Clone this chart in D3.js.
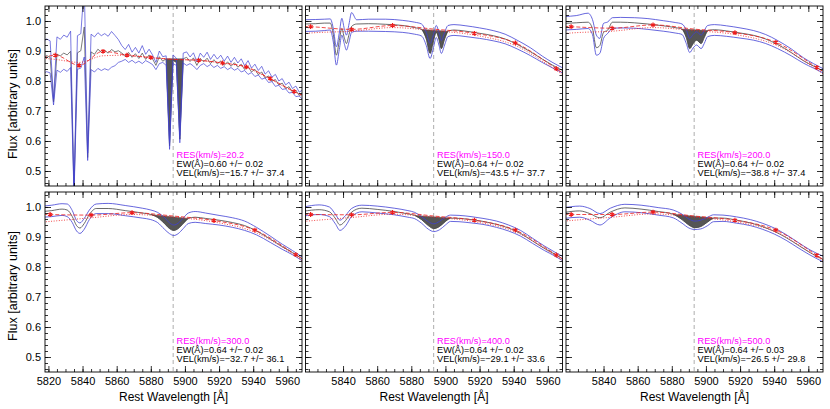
<!DOCTYPE html>
<html><head><meta charset="utf-8">
<script src="https://cdn.jsdelivr.net/npm/d3@7"></script>
<style>
body{margin:0;background:#fff}
svg{display:block}
text{font-family:"Liberation Sans",Arial,Helvetica,sans-serif;fill:#000}
</style>
</head><body><svg id="c" width="830" height="409"></svg>
<script>
// ---------------- DATA ----------------
// Panel 1 (RES 20.2) sampled every 2 Å
const wl1 = d3.range(5817, 5970, 2);
const flux1 = [0.878,0.885,0.879,0.73,0.889,0.884,0.893,0.887,0.899,0.43,
 0.894,0.901,0.98,0.545,0.897,0.889,0.906,0.896,0.902,0.893,
 0.905,0.897,0.901,0.893,0.884,0.895,0.879,0.891,0.875,0.893,
 0.872,0.887,0.874,0.852,0.881,0.866,0.874,0.584,0.869,0.862,
 0.606,0.874,0.879,0.865,0.877,0.852,0.875,0.864,0.876,0.858,
 0.871,0.857,0.867,0.852,0.864,0.849,0.861,0.846,0.856,0.838,
 0.849,0.83,0.839,0.821,0.83,0.81,0.817,0.799,0.805,0.787,
 0.793,0.775,0.781,0.763,0.769,0.752,0.757];
const hi1 = [0.931,0.940,0.934,0.74,0.947,0.939,0.953,0.946,0.966,0.44,
 0.951,0.958,1.12,0.56,0.956,0.947,0.961,0.951,0.958,0.949,
 0.965,0.952,0.938,0.918,0.905,0.922,0.896,0.912,0.893,0.918,
 0.889,0.906,0.887,0.862,0.9,0.881,0.884,0.596,0.887,0.876,
 0.618,0.893,0.897,0.88,0.894,0.864,0.893,0.879,0.896,0.872,
 0.889,0.873,0.886,0.866,0.883,0.862,0.879,0.86,0.874,0.851,
 0.868,0.843,0.856,0.835,0.849,0.823,0.834,0.813,0.822,0.8,
 0.808,0.787,0.796,0.775,0.783,0.763,0.77];
const lo1 = [0.826,0.831,0.827,0.72,0.836,0.829,0.839,0.832,0.845,0.42,
 0.839,0.843,0.88,0.535,0.838,0.83,0.842,0.835,0.841,0.836,
 0.846,0.851,0.862,0.866,0.872,0.862,0.869,0.86,0.866,0.858,
 0.868,0.862,0.855,0.838,0.858,0.862,0.852,0.572,0.858,0.852,
 0.594,0.86,0.852,0.858,0.85,0.838,0.852,0.858,0.848,0.855,
 0.845,0.852,0.842,0.848,0.838,0.845,0.836,0.842,0.83,0.835,
 0.822,0.828,0.815,0.82,0.806,0.81,0.795,0.798,0.782,0.786,
 0.772,0.774,0.76,0.762,0.748,0.75,0.738];
const cont1Wl = [5817,5824,5838,5852,5866,5880,5894,5908,5922,5936,5950,5964,5969];
const cont1 = [0.877,0.886,0.852,0.899,0.886,0.878,0.872,0.869,0.86,0.847,0.808,0.765,0.752];
const dot1 = [0.876,0.872,0.862,0.884,0.886,0.878,0.872,0.869,0.86,0.845,0.806,0.764,0.751];

// Panels 2-6 share continuum node wavelengths
const contWl = [5817,5821,5845,5869,5893,5917,5941,5965,5969];

// Panel 2 (RES 150)
const wl2 = [5817,5824,5829,5832.5,5834.3,5836.1,5837.8,5839.3,5840.7,5842,5843.5,5845,5848,5855,5865,5875,5882,5886,5888.8,5891,5893,5894.6,5896.2,5897.6,5899.5,5901.5,5905,5912,5920,5928,5935,5942,5950,5957,5963,5969];
const flux2 = [0.990,0.991,0.993,0.993,0.955,0.886,0.935,0.975,0.945,0.925,0.955,0.982,0.99,0.991,0.989,0.985,0.978,0.972,0.94,0.892,0.935,0.962,0.94,0.908,0.94,0.966,0.97,0.966,0.959,0.951,0.94,0.922,0.897,0.872,0.852,0.834];
const hi2 = [1.004,1.005,1.006,1.007,0.975,0.914,0.96,1.009,0.975,0.953,0.99,1.028,1.004,1.006,1.006,1.002,0.996,0.99,0.962,0.925,0.955,0.985,0.962,0.935,0.962,0.985,0.988,0.984,0.977,0.968,0.956,0.936,0.91,0.882,0.861,0.843];
const lo2 = [0.965,0.966,0.968,0.97,0.93,0.853,0.905,0.953,0.925,0.903,0.93,0.962,0.966,0.966,0.965,0.962,0.956,0.95,0.918,0.875,0.912,0.945,0.92,0.892,0.92,0.948,0.952,0.948,0.942,0.934,0.924,0.907,0.884,0.861,0.843,0.826];
const cont2 = [0.982,0.981,0.972,0.985,0.973,0.959,0.927,0.841,0.826];
const dot2 = [0.958,0.96,0.966,0.978,0.968,0.953,0.918,0.835,0.82];

// Panel 3 (RES 200)
const wl3 = [5817,5824,5830.9,5833.5,5835.8,5837.8,5840,5842.5,5845.2,5850,5858,5866,5875,5882,5886,5888.5,5890.5,5892.5,5894.5,5897.2,5899,5901,5905,5912,5920,5928,5935,5942,5950,5957,5963,5969];
const flux3 = [0.992,0.994,0.996,0.975,0.911,0.918,0.962,0.97,0.996,0.996,0.994,0.99,0.984,0.978,0.973,0.945,0.908,0.925,0.936,0.925,0.945,0.968,0.971,0.967,0.96,0.952,0.94,0.922,0.895,0.868,0.85,0.832];
const hi3 = [1.015,1.018,1.026,1.005,0.953,0.942,0.992,0.997,1.011,1.012,1.011,1.008,1.001,0.995,0.99,0.97,0.942,0.955,0.964,0.953,0.968,0.985,0.988,0.984,0.977,0.968,0.955,0.935,0.907,0.878,0.858,0.84];
const lo3 = [0.97,0.972,0.975,0.955,0.886,0.892,0.942,0.959,0.975,0.977,0.976,0.972,0.966,0.96,0.955,0.925,0.895,0.91,0.92,0.908,0.925,0.948,0.952,0.949,0.943,0.936,0.925,0.908,0.884,0.86,0.843,0.826];
const cont3 = [0.982,0.981,0.976,0.987,0.973,0.961,0.929,0.845,0.83];
const dot3 = [0.958,0.96,0.966,0.978,0.968,0.955,0.92,0.838,0.822];

// Panel 4 (RES 300)
const wl4 = [5817,5822,5828,5831,5834,5836.5,5838.5,5841,5844,5848,5855,5865,5875,5880,5884,5888,5891,5893.5,5896,5899,5902,5906,5912,5920,5928,5935,5942,5950,5957,5963,5969];
const flux4 = [0.985,0.988,0.993,0.99,0.968,0.938,0.93,0.945,0.975,0.995,0.995,0.988,0.98,0.975,0.965,0.945,0.928,0.922,0.928,0.945,0.962,0.966,0.962,0.956,0.948,0.938,0.92,0.893,0.868,0.848,0.826];
const hi4 = [1.003,1.006,1.011,1.01,0.988,0.955,0.947,0.962,0.99,1.01,1.012,1.005,0.996,0.99,0.982,0.965,0.947,0.94,0.946,0.963,0.98,0.985,0.98,0.972,0.964,0.953,0.932,0.903,0.876,0.855,0.832];
const lo4 = [0.966,0.968,0.972,0.968,0.948,0.92,0.912,0.926,0.958,0.978,0.978,0.971,0.963,0.958,0.948,0.926,0.911,0.905,0.911,0.928,0.945,0.949,0.945,0.94,0.932,0.922,0.907,0.882,0.859,0.841,0.82];
const cont4 = [0.976,0.975,0.973,0.981,0.970,0.955,0.923,0.841,0.826];
const dot4 = [0.95,0.952,0.964,0.975,0.966,0.95,0.916,0.836,0.82];

// Panel 5 (RES 400)
const wl5 = [5817,5826,5832,5835.5,5838.2,5841.5,5845,5851,5860,5870,5878,5882,5886,5890,5893.2,5896.5,5900,5903,5908,5915,5922,5930,5937,5944,5951,5958,5964,5969];
const flux5 = [0.986,0.991,0.984,0.962,0.94,0.955,0.983,0.996,0.992,0.985,0.977,0.972,0.958,0.938,0.928,0.935,0.952,0.963,0.962,0.958,0.952,0.942,0.93,0.912,0.887,0.862,0.843,0.826];
const hi5 = [1.0,1.007,1.0,0.976,0.956,0.972,0.995,1.006,1.003,0.996,0.988,0.982,0.968,0.951,0.944,0.952,0.966,0.973,0.972,0.968,0.962,0.953,0.94,0.922,0.896,0.87,0.85,0.834];
const lo5 = [0.97,0.975,0.968,0.944,0.922,0.937,0.968,0.984,0.98,0.974,0.966,0.961,0.946,0.926,0.918,0.924,0.94,0.952,0.951,0.947,0.942,0.932,0.92,0.903,0.879,0.855,0.837,0.82];
const cont5 = [0.976,0.975,0.974,0.982,0.970,0.956,0.923,0.84,0.825];
const dot5 = [0.952,0.954,0.965,0.976,0.966,0.951,0.917,0.835,0.82];

// Panel 6 (RES 500)
const wl6 = [5817,5826,5832,5837.9,5844,5852.5,5862,5872,5880.8,5886,5890,5893.5,5897,5901,5904.5,5910,5918,5926,5933,5940,5947,5954,5961,5969];
const flux6 = [0.982,0.987,0.978,0.964,0.983,0.997,0.993,0.985,0.976,0.958,0.94,0.931,0.935,0.95,0.963,0.963,0.956,0.947,0.935,0.919,0.898,0.873,0.848,0.824];
const hi6 = [0.998,1.003,0.995,0.978,0.996,1.009,1.006,0.998,0.99,0.976,0.96,0.953,0.956,0.966,0.974,0.973,0.967,0.958,0.946,0.93,0.908,0.882,0.857,0.835];
const lo6 = [0.962,0.966,0.956,0.94,0.964,0.984,0.981,0.973,0.964,0.946,0.93,0.925,0.927,0.938,0.951,0.952,0.946,0.938,0.926,0.91,0.889,0.864,0.84,0.816];
const cont6 = [0.976,0.975,0.975,0.983,0.970,0.956,0.923,0.839,0.824];
const dot6 = [0.953,0.955,0.966,0.977,0.966,0.951,0.917,0.834,0.82];

// Absorption fill ranges (Å)
const fillRanges = [[5889,5899],[5886,5901.5],[5886,5901],[5880,5902],[5882,5903],[5880.8,5904.5]];
// Annotations
const resVals = ["20.2","150.0","200.0","300.0","400.0","500.0"];
const ewVals = [0.60,0.64,0.64,0.64,0.64,0.64];
const ewErrs = [0.02,0.02,0.02,0.02,0.02,0.03];
const velVals = [-15.7,-43.5,-38.8,-32.7,-29.1,-26.5];
const velErrs = [37.4,37.7,37.4,36.1,33.6,29.8];
const naD = 5893.1;
const xMajor = [5820,5840,5860,5880,5900,5920,5940,5960];
const yMajor = [0.5,0.6,0.7,0.8,0.9,1.0];

const panels = [
  {wl:wl1, f:flux1, hi:hi1, lo:lo1, cw:cont1Wl, c:cont1, d:dot1, curve:d3.curveLinear, sw:0.7},
  {wl:wl2, f:flux2, hi:hi2, lo:lo2, cw:contWl, c:cont2, d:dot2, curve:d3.curveMonotoneX, sw:0.8},
  {wl:wl3, f:flux3, hi:hi3, lo:lo3, cw:contWl, c:cont3, d:dot3, curve:d3.curveMonotoneX, sw:0.8},
  {wl:wl4, f:flux4, hi:hi4, lo:lo4, cw:contWl, c:cont4, d:dot4, curve:d3.curveMonotoneX, sw:0.8},
  {wl:wl5, f:flux5, hi:hi5, lo:lo5, cw:contWl, c:cont5, d:dot5, curve:d3.curveMonotoneX, sw:0.8},
  {wl:wl6, f:flux6, hi:hi6, lo:lo6, cw:contWl, c:cont6, d:dot6, curve:d3.curveMonotoneX, sw:0.8}
];

// ---------------- LAYOUT ----------------
const lefts = [45, 305.5, 566], pw = 257;
const tops = [6, 192], ph = 180;
const xDom = [5818, 5968.6], yDom = [0.45, 1.05];
const BLUE = "#4040d4", RED = "#ee1c1c", GREY = "#444";
const svg = d3.select("#c");
const minus = v => (v < 0 ? "\u2212" : "") + Math.abs(v).toFixed(1);

panels.forEach((p, k) => {
  const col = k % 3, row = Math.floor(k / 3);
  const x0 = lefts[col], y0 = tops[row];
  const x = d3.scaleLinear().domain(xDom).range([x0, x0 + pw]);
  const y = d3.scaleLinear().domain(yDom).range([y0 + ph, y0]);
  const g = svg.append("g");
  const cid = "clip" + k;
  svg.append("clipPath").attr("id", cid).append("rect")
    .attr("x", x0).attr("y", y0).attr("width", pw).attr("height", ph);
  const pg = g.append("g").attr("clip-path", `url(#${cid})`);

  // Na D marker line
  pg.append("line").attr("x1", x(naD)).attr("x2", x(naD)).attr("y1", y0).attr("y2", y0 + ph)
    .attr("stroke", "#999").attr("stroke-width", 0.8).attr("stroke-dasharray", "4,3");

  const pts = a => p.wl.map((w, i) => [w, a[i]]);
  const line = d3.line().x(d => x(d[0])).y(d => y(d[1])).curve(p.curve);

  // absorption fill
  const [fs, fe] = fillRanges[k];
  const fp = pts(p.f).filter(d => d[0] >= fs && d[0] <= fe);
  pg.append("path").attr("d", line(fp) + "Z").attr("fill", "#555").attr("stroke", "#555").attr("stroke-width", 0.5);

  // spectrum + envelopes
  pg.append("path").attr("d", line(pts(p.f))).attr("fill", "none").attr("stroke", GREY).attr("stroke-width", p.sw);
  pg.append("path").attr("d", line(pts(p.hi))).attr("fill", "none").attr("stroke", BLUE).attr("stroke-width", p.sw);
  pg.append("path").attr("d", line(pts(p.lo))).attr("fill", "none").attr("stroke", BLUE).attr("stroke-width", p.sw);

  // continuum
  const cl = d3.line().x(d => x(d[0])).y(d => y(d[1])).curve(d3.curveMonotoneX);
  const cpts = p.cw.map((w, i) => [w, p.c[i]]);
  const dpts = p.cw.map((w, i) => [w, p.d[i]]);
  pg.append("path").attr("d", cl(dpts)).attr("fill", "none").attr("stroke", RED).attr("stroke-width", 0.8).attr("stroke-dasharray", "1,1.6");
  pg.append("path").attr("d", cl(cpts)).attr("fill", "none").attr("stroke", RED).attr("stroke-width", 0.8).attr("stroke-dasharray", "4,2");
  const sym = d3.symbol(d3.symbolAsterisk, 16);
  const marks = cpts.slice(1, -1).filter(d => d[0] < fs || d[0] > fe);
  pg.selectAll("path.m").data(marks).join("path").attr("class", "m")
    .attr("d", sym).attr("transform", d => `translate(${x(d[0])},${y(d[1])})`)
    .attr("stroke", RED).attr("stroke-width", 1.2).attr("fill", "none");

  // frame
  g.append("rect").attr("x", x0).attr("y", y0).attr("width", pw).attr("height", ph)
    .attr("fill", "none").attr("stroke", "#000").attr("stroke-width", 0.9);

  const xMinor = d3.range(5820, 5968, 5);
  const yMinor = d3.range(0.46, 1.05, 0.02);
  const style = sel => {
    sel.select(".domain").remove();
    sel.selectAll("line").attr("stroke", "#000").attr("stroke-width", 0.8);
    sel.selectAll("text").filter(function () { return this.textContent === ""; }).remove();
    sel.selectAll("text").attr("font-size", "11px").attr("fill", "#000").attr("font-family", "Liberation Sans, Arial, sans-serif");
  };

  // bottom
  const showX = row === 1;
  const xLab = col === 0 ? xMajor : xMajor.filter(v => v > 5820);
  g.append("g").attr("transform", `translate(0,${y0 + ph})`)
    .call(d3.axisBottom(x).tickValues(xMinor).tickSize(-3).tickFormat("")).call(style);
  g.append("g").attr("transform", `translate(0,${y0 + ph})`)
    .call(d3.axisBottom(x).tickValues(showX ? xLab : xMajor).tickSize(-6).tickPadding(5)
      .tickFormat(showX ? d3.format("d") : "")).call(style);
  // top
  g.append("g").attr("transform", `translate(0,${y0})`)
    .call(d3.axisTop(x).tickValues(xMinor).tickSize(-3).tickFormat("")).call(style);
  g.append("g").attr("transform", `translate(0,${y0})`)
    .call(d3.axisTop(x).tickValues(xMajor).tickSize(-6).tickFormat("")).call(style);
  // left
  g.append("g").attr("transform", `translate(${x0},0)`)
    .call(d3.axisLeft(y).tickValues(yMinor).tickSize(-3).tickFormat("")).call(style);
  g.append("g").attr("transform", `translate(${x0},0)`)
    .call(d3.axisLeft(y).tickValues(yMajor).tickSize(-6).tickPadding(4)
      .tickFormat(col === 0 ? d3.format(".1f") : "")).call(style);
  // right
  g.append("g").attr("transform", `translate(${x0 + pw},0)`)
    .call(d3.axisRight(y).tickValues(yMinor).tickSize(-3).tickFormat("")).call(style);
  g.append("g").attr("transform", `translate(${x0 + pw},0)`)
    .call(d3.axisRight(y).tickValues(yMajor).tickSize(-6).tickFormat("")).call(style);

  // annotations
  const tx = x0 + 131.5, bot = y0 + ph;
  const ann = g.append("g").attr("font-size", "9.2px");
  ann.append("text").attr("x", tx).attr("y", bot - 27.6).style("fill", "#ff00ff").text(`RES(km/s)=${resVals[k]}`);
  ann.append("text").attr("x", tx).attr("y", bot - 18.8).text(`EW(\u00C5)=${ewVals[k].toFixed(2)} +/\u2212 ${ewErrs[k].toFixed(2)}`);
  ann.append("text").attr("x", tx).attr("y", bot - 10).text(`VEL(km/s)=${minus(velVals[k])} +/\u2212 ${velErrs[k].toFixed(1)}`);

  // titles
  if (row === 1) {
    svg.append("text").attr("x", x0 + pw / 2).attr("y", 401).attr("text-anchor", "middle")
      .attr("font-size", "12px").text("Rest Wavelength [\u00C5]");
  }
  if (col === 0) {
    const cy = row === 0 ? 104 : 286;
    svg.append("text").attr("transform", `translate(17,${cy}) rotate(-90)`).attr("text-anchor", "middle")
      .attr("font-size", "12.5px").text("Flux [arbitrary units]");
  }
});
</script>
</body></html>
